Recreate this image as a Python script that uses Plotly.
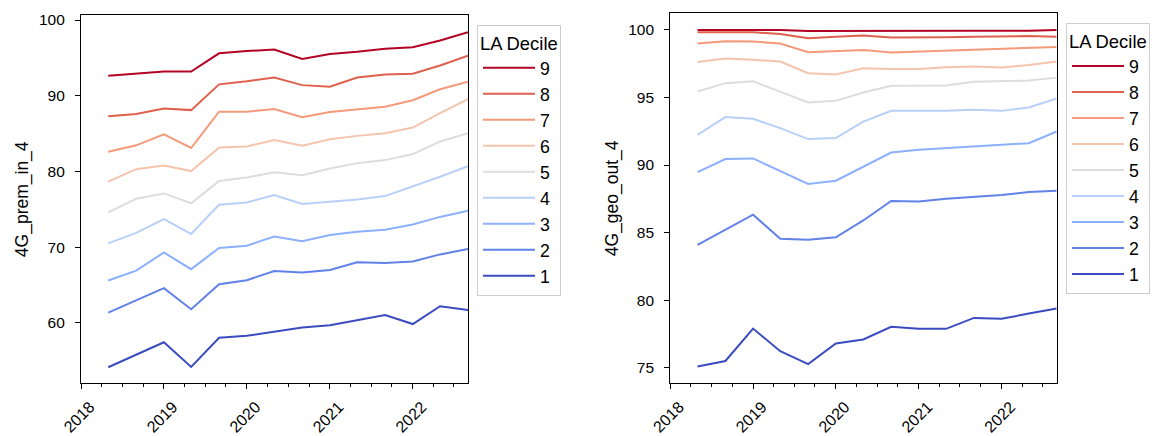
import plotly.graph_objects as go

dates = ["2018-05-01", "2018-09-01", "2019-01-01", "2019-05-01", "2019-09-01",
         "2020-01-01", "2020-05-01", "2020-09-01", "2021-01-01", "2021-05-01",
         "2021-09-01", "2022-01-01", "2022-05-01", "2022-09-01"]

deciles = [1, 2, 3, 4, 5, 6, 7, 8, 9]

prem_in_4 = {
    1: [54.15, 55.85, 57.45, 54.2, 58.05, 58.3, 58.85, 59.4, 59.7, 60.4, 61.05, 59.85, 62.2, 61.7],
    2: [61.35, 63.0, 64.6, 61.8, 65.1, 65.65, 66.85, 66.65, 67.0, 68.0, 67.9, 68.1, 69.05, 69.75],
    3: [65.6, 66.9, 69.3, 67.1, 69.9, 70.2, 71.4, 70.8, 71.6, 72.05, 72.3, 73.0, 74.0, 74.8],
    4: [70.5, 71.9, 73.7, 71.75, 75.6, 75.9, 76.9, 75.7, 76.0, 76.3, 76.75, 78.0, 79.3, 80.7],
    5: [74.6, 76.4, 77.1, 75.8, 78.75, 79.2, 79.9, 79.5, 80.4, 81.1, 81.5, 82.3, 83.95, 85.05],
    6: [78.65, 80.3, 80.8, 80.05, 83.15, 83.3, 84.15, 83.4, 84.25, 84.7, 85.05, 85.8, 87.7, 89.55],
    7: [82.6, 83.45, 84.9, 83.1, 87.9, 87.9, 88.25, 87.15, 87.85, 88.2, 88.55, 89.4, 90.85, 91.85],
    8: [87.3, 87.6, 88.3, 88.1, 91.5, 91.9, 92.4, 91.4, 91.2, 92.4, 92.8, 92.9, 94.0, 95.3],
    9: [92.65, 92.9, 93.2, 93.2, 95.6, 95.9, 96.1, 94.85, 95.5, 95.8, 96.2, 96.4, 97.3, 98.4],
}

geo_out_4 = {
    1: [75.1, 75.5, 77.9, 76.22, 75.27, 76.8, 77.09, 78.03, 77.88, 77.88, 78.69, 78.62, 79.01, 79.38],
    2: [84.09, 85.22, 86.33, 84.55, 84.48, 84.65, 85.9, 87.34, 87.31, 87.51, 87.63, 87.78, 88.0, 88.1],
    3: [89.48, 90.44, 90.49, 89.53, 88.6, 88.84, 89.9, 90.93, 91.13, 91.25, 91.33, 91.45, 91.62, 92.48],
    4: [92.24, 93.55, 93.42, 92.73, 91.92, 92.0, 93.22, 94.01, 94.01, 94.02, 94.09, 94.01, 94.26, 94.92],
    5: [95.44, 96.06, 96.2, 95.44, 94.63, 94.75, 95.37, 95.86, 95.86, 95.88, 96.16, 96.2, 96.25, 96.47],
    6: [97.63, 97.88, 97.8, 97.66, 96.8, 96.7, 97.17, 97.1, 97.1, 97.24, 97.29, 97.21, 97.41, 97.66],
    7: [99.0, 99.16, 99.14, 99.0, 98.35, 98.45, 98.52, 98.33, 98.4, 98.5, 98.57, 98.65, 98.72, 98.74],
    8: [99.83, 99.83, 99.83, 99.7, 99.38, 99.5, 99.58, 99.43, 99.43, 99.45, 99.5, 99.55, 99.55, 99.5],
    9: [100.0, 100.0, 100.0, 100.0, 99.92, 99.93, 99.93, 99.92, 99.93, 99.93, 99.93, 99.93, 99.93, 100.0],
}

colors = ["#3b4cc0", "#6282ea", "#8db0fe", "#b8d0f9", "#dddddd",
          "#f5c4ac", "#f49a7b", "#de604d", "#b40426"]

W, H = 1156, 436
FONT = "Liberation Sans, Arial, sans-serif"

fig = go.Figure()
for d, c in zip(deciles, colors):
    fig.add_trace(go.Scatter(x=dates, y=prem_in_4[d], mode="lines", name=str(d),
                             line=dict(color=c, width=2), xaxis="x", yaxis="y",
                             legend="legend"))
for d, c in zip(deciles, colors):
    fig.add_trace(go.Scatter(x=dates, y=geo_out_4[d], mode="lines", name=str(d),
                             line=dict(color=c, width=2), xaxis="x2", yaxis="y2",
                             legend="legend2"))


def px_x(p):
    return p / W


def px_y(p):
    return 1 - p / H


common_x = dict(type="date", range=["2018-01-01", "2022-09-01"], tick0="2018-01-01",
                dtick="M12", tickformat="%Y", tickangle=-45, ticks="outside",
                ticklen=5, tickwidth=1.2, tickcolor="black", showline=True,
                linecolor="black", linewidth=1.2, mirror=True, showgrid=False,
                zeroline=False, tickfont=dict(size=16, color="black"),
                ticklabelshift=9, ticklabelstandoff=2, automargin=False,
                minor=dict(dtick="M3", tick0="2018-01-01", ticks="outside", ticklen=3,
                           tickwidth=1, tickcolor="black", showgrid=False))
common_y = dict(ticks="outside", ticklen=5, tickwidth=1.2, tickcolor="black",
                showline=True, linecolor="black", linewidth=1.2, mirror=True,
                showgrid=False, zeroline=False, tickfont=dict(size=15.5, color="black"),
                ticklabelstandoff=7, automargin=False)

legend_common = dict(title=dict(text="LA Decile", font=dict(size=18.4, color="black")),
                     font=dict(size=17.7, color="black"), bgcolor="white",
                     bordercolor="#cccccc", borderwidth=1, traceorder="reversed",
                     itemwidth=52, xanchor="left", yanchor="top")

fig.update_layout(
    width=W, height=H,
    margin=dict(l=0, r=0, t=0, b=0, autoexpand=False),
    paper_bgcolor="white", plot_bgcolor="white",
    font=dict(family=FONT, size=16, color="black"),
    xaxis=dict(domain=[px_x(81), px_x(468)], anchor="y", **common_x),
    yaxis=dict(domain=[px_y(383.3), px_y(15.3)], anchor="x", range=[52.03, 100.62],
               tickvals=[60, 70, 80, 90, 100],
               title=dict(text="4G_prem_in_4", font=dict(size=17.5), standoff=5),
               **common_y),
    xaxis2=dict(domain=[px_x(670.3), px_x(1056.7)], anchor="y2", **common_x),
    yaxis2=dict(domain=[px_y(383.3), px_y(13.3)], anchor="x2", range=[73.85, 101.23],
                tickvals=[75, 80, 85, 90, 95, 100],
                title=dict(text="4G_geo_out_4", font=dict(size=17.5), standoff=5),
                **common_y),
    legend=dict(x=px_x(477), y=px_y(24.7), **legend_common),
    legend2=dict(x=px_x(1066), y=px_y(23), **legend_common),
    showlegend=True,
)

fig.write_html("out.html")
